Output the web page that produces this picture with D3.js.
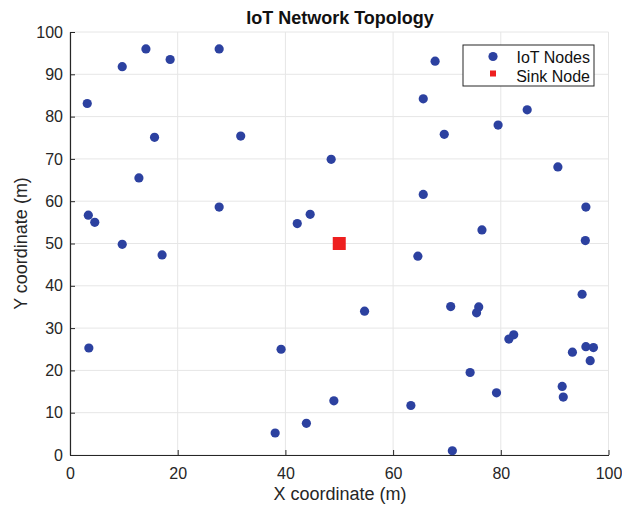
<!DOCTYPE html>
<html>
<head>
<meta charset="utf-8">
<script src="https://cdn.jsdelivr.net/npm/d3@7"></script>
<style>
  body { margin: 0; background: #fff; }
  text { font-family: "Liberation Sans", Arial, sans-serif; }
</style>
</head>
<body>
<div id="chart"></div>
<script>
// node positions (metres)
var nodeX = [3.2, 9.7, 14.1, 18.6, 27.7, 15.7, 31.7, 12.8, 3.4, 4.6,
             27.7, 9.7, 17.1, 42.2, 44.6, 48.5, 67.8, 65.6, 84.9, 79.5,
             69.5, 90.6, 65.6, 95.8, 76.5, 95.7, 64.6, 95.1, 54.7, 70.7,
             75.9, 75.5, 82.4, 81.5, 95.8, 97.2, 93.3, 96.6, 74.3, 79.2,
             91.4, 91.6, 49.0, 63.3, 43.9, 38.1, 71.0, 3.5, 39.2];
var nodeY = [83.1, 91.8, 96.0, 93.5, 96.0, 75.1, 75.4, 65.5, 56.7, 55.0,
             58.6, 49.8, 47.3, 54.7, 56.9, 69.9, 93.1, 84.2, 81.6, 78.0,
             75.8, 68.1, 61.6, 58.6, 53.2, 50.7, 47.0, 38.0, 34.0, 35.1,
             35.0, 33.6, 28.4, 27.4, 25.6, 25.4, 24.3, 22.3, 19.5, 14.7,
             16.2, 13.7, 12.8, 11.7, 7.5, 5.2, 1.0, 25.3, 25.0];
var sinkX = [50];
var sinkY = [50];
var tickValues = [0, 10, 20, 30, 40, 50, 60, 70, 80, 90, 100];
var xTickValues = [0, 20, 40, 60, 80, 100];
var legendLabels = ["IoT Nodes", "Sink Node"];

const W = 622, H = 509;
const margin = {top: 32, right: 13.5, bottom: 54, left: 70};
const width = W - margin.left - margin.right,
      height = H - margin.top - margin.bottom;

const svg = d3.select("#chart")
  .append("svg")
    .attr("width", W)
    .attr("height", H);

const g = svg.append("g")
  .attr("transform", `translate(${margin.left},${margin.top})`);

const x = d3.scaleLinear().domain([0, 100]).range([0, width]);
const y = d3.scaleLinear().domain([0, 100]).range([height, 0]);

// grid
g.append("g")
  .selectAll("line")
  .data(xTickValues)
  .join("line")
    .attr("x1", d => x(d)).attr("x2", d => x(d))
    .attr("y1", 0).attr("y2", height)
    .attr("stroke", "#e6e6e6");
g.append("g")
  .selectAll("line")
  .data(tickValues)
  .join("line")
    .attr("x1", 0).attr("x2", width)
    .attr("y1", d => y(d)).attr("y2", d => y(d))
    .attr("stroke", "#e6e6e6");

// axes (ticks point inward, matlab style)
const xAxis = g.append("g")
  .attr("transform", `translate(0,${height})`)
  .call(d3.axisBottom(x).tickValues(xTickValues).tickSizeInner(-5).tickSizeOuter(0).tickPadding(13));
const yAxis = g.append("g")
  .call(d3.axisLeft(y).tickValues(tickValues).tickSizeInner(-5).tickSizeOuter(0).tickPadding(7));

[xAxis, yAxis].forEach(function(a) {
  a.select(".domain").attr("stroke", "#262626").attr("stroke-width", 1.2);
  a.selectAll(".tick line").attr("stroke", "#262626");
  a.selectAll(".tick text")
    .attr("fill", "#262626")
    .style("font-size", "16px")
    .style("font-family", '"Liberation Sans", Arial, sans-serif');
});

// nodes
g.append("g")
  .selectAll("circle")
  .data(nodeX.map((d, i) => ({x: d, y: nodeY[i]})))
  .join("circle")
    .attr("cx", d => x(d.x))
    .attr("cy", d => y(d.y))
    .attr("r", 4.6)
    .attr("fill", "#2c41a0");

// sink
const sq = 13;
g.append("g")
  .selectAll("rect")
  .data(sinkX.map((d, i) => ({x: d, y: sinkY[i]})))
  .join("rect")
    .attr("x", d => x(d.x) - sq / 2)
    .attr("y", d => y(d.y) - sq / 2)
    .attr("width", sq)
    .attr("height", sq)
    .attr("fill", "#ee1f1f");

// title + labels
svg.append("text")
  .attr("x", 340)
  .attr("y", 24)
  .attr("text-anchor", "middle")
  .style("font-size", "18px")
  .style("font-weight", "bold")
  .attr("fill", "#111")
  .text("IoT Network Topology");

svg.append("text")
  .attr("x", 340)
  .attr("y", 500)
  .attr("text-anchor", "middle")
  .style("font-size", "18px")
  .attr("fill", "#262626")
  .text("X coordinate (m)");

svg.append("text")
  .attr("transform", `translate(27,${margin.top + height / 2}) rotate(-90)`)
  .attr("text-anchor", "middle")
  .style("font-size", "18px")
  .attr("fill", "#262626")
  .text("Y coordinate (m)");

// legend
const lg = svg.append("g").attr("transform", "translate(463,45)");
lg.append("rect")
  .attr("width", 131).attr("height", 41)
  .attr("fill", "#fff")
  .attr("stroke", "#262626").attr("stroke-width", 1);
lg.append("circle").attr("cx", 30).attr("cy", 11.5).attr("r", 4.6).attr("fill", "#2c41a0");
lg.append("rect").attr("x", 27).attr("y", 25.5).attr("width", 6).attr("height", 6).attr("fill", "#ee1f1f");
lg.selectAll("text.lbl")
  .data(legendLabels)
  .join("text")
    .attr("class", "lbl")
    .attr("x", 127)
    .attr("y", (d, i) => 18 + i * 18.5)
    .attr("text-anchor", "end")
    .style("font-size", "16px")
    .attr("fill", "#111")
    .text(d => d);
</script>
</body>
</html>
